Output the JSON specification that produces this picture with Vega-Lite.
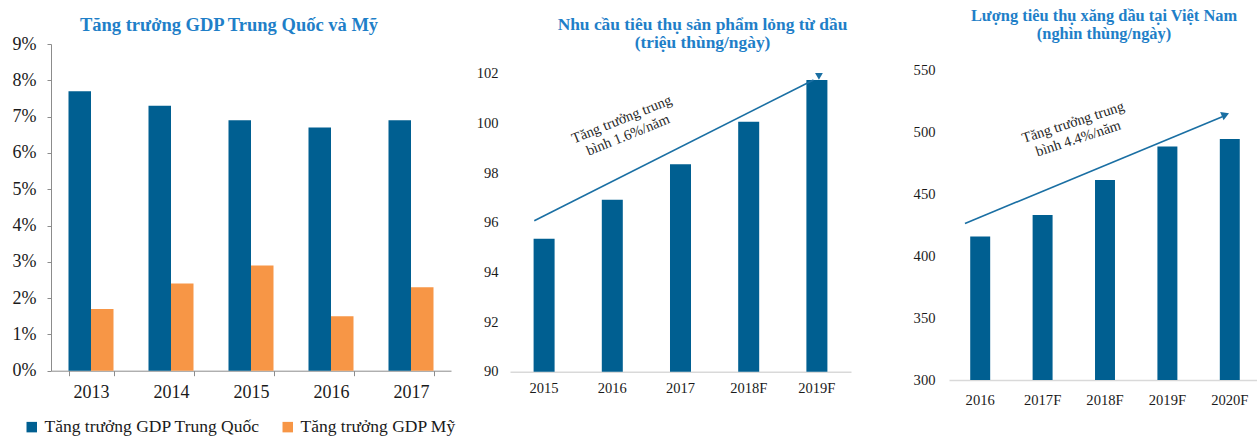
{
  "$schema": "https://vega.github.io/schema/vega-lite/v6.json",
  "padding": {"left": 12, "top": 7, "right": 0, "bottom": 0},
  "spacing": 59,
  "bounds": "flush",
  "config": {
    "font": "Liberation Serif",
    "view": {"stroke": null},
    "axis": {"labelColor": "#1a1a1a", "labelFont": "Liberation Serif", "grid": false, "title": null},
    "title": {"font": "Liberation Serif", "fontWeight": "bold", "color": "#1F7FC8", "anchor": "middle", "baseline": "bottom"}
  },
  "hconcat": [
    {
      "width": 400,
      "height": 326.7,
      "title": {"text": "Tăng trưởng GDP Trung Quốc và Mỹ", "fontSize": 18.5, "dx": -22, "offset": 1},
      "data": {"values": [
        {"year": "2013", "series": "Tăng trưởng GDP Trung Quốc", "value": 0.077},
        {"year": "2013", "series": "Tăng trưởng GDP Mỹ", "value": 0.017},
        {"year": "2014", "series": "Tăng trưởng GDP Trung Quốc", "value": 0.073},
        {"year": "2014", "series": "Tăng trưởng GDP Mỹ", "value": 0.024},
        {"year": "2015", "series": "Tăng trưởng GDP Trung Quốc", "value": 0.069},
        {"year": "2015", "series": "Tăng trưởng GDP Mỹ", "value": 0.029},
        {"year": "2016", "series": "Tăng trưởng GDP Trung Quốc", "value": 0.067},
        {"year": "2016", "series": "Tăng trưởng GDP Mỹ", "value": 0.015},
        {"year": "2017", "series": "Tăng trưởng GDP Trung Quốc", "value": 0.069},
        {"year": "2017", "series": "Tăng trưởng GDP Mỹ", "value": 0.023}
      ]},
      "mark": {"type": "bar"},
      "encoding": {
        "x": {
          "field": "year", "type": "nominal",
          "scale": {"paddingInner": 0.4375, "paddingOuter": 0.21875},
          "axis": {"labelAngle": 0, "tickBand": "extent", "domainColor": "#8C8C8C", "tickColor": "#8C8C8C", "tickSize": 5, "labelFontSize": 18, "labelPadding": 8}
        },
        "xOffset": {
          "field": "series", "type": "nominal",
          "sort": ["Tăng trưởng GDP Trung Quốc", "Tăng trưởng GDP Mỹ"],
          "scale": {"paddingInner": 0, "paddingOuter": 0}
        },
        "y": {
          "field": "value", "type": "quantitative",
          "scale": {"domain": [0, 0.09], "nice": false},
          "axis": {"format": ".0%", "values": [0, 0.01, 0.02, 0.03, 0.04, 0.05, 0.06, 0.07, 0.08, 0.09], "domainColor": "#8C8C8C", "tickColor": "#8C8C8C", "tickSize": 4, "labelFontSize": 18, "labelPadding": 11}
        },
        "color": {
          "field": "series", "type": "nominal",
          "scale": {"domain": ["Tăng trưởng GDP Trung Quốc", "Tăng trưởng GDP Mỹ"], "range": ["#005F91", "#F79646"]},
          "legend": {
            "title": null, "orient": "none", "legendX": -28, "legendY": 374, "direction": "horizontal",
            "symbolType": "square", "symbolSize": 110, "symbolStrokeWidth": 0,
            "labelFontSize": 17.5, "labelFont": "Liberation Serif", "labelColor": "#1a1a1a", "labelLimit": 400,
            "labelOffset": 4, "columnPadding": 19
          }
        }
      }
    },
    {
      "spacing": 98,
      "bounds": "flush",
      "hconcat": [
        {
          "width": 341,
          "height": 327.7,
          "title": {"text": ["Nhu cầu tiêu thụ sản phẩm lỏng từ dầu", "(triệu thùng/ngày)"], "fontSize": 17.4, "lineHeight": 18, "dx": 22, "offset": -7},
          "resolve": {"scale": {"x": "independent"}},
          "layer": [
            {
              "data": {"values": [
                {"year": "2015", "value": 95.36},
                {"year": "2016", "value": 96.93},
                {"year": "2017", "value": 98.36},
                {"year": "2018F", "value": 100.07},
                {"year": "2019F", "value": 101.75}
              ]},
              "mark": {"type": "bar", "color": "#005F91", "clip": true},
              "encoding": {
                "x": {"field": "year", "type": "nominal", "scale": {"paddingInner": 0.692, "paddingOuter": 0.346},
                  "axis": {"labelAngle": 0, "domainColor": "#D9D9D9", "domainWidth": 1.5, "ticks": false, "labelFontSize": 14.5, "labelPadding": 10}},
                "y": {"field": "value", "type": "quantitative", "scale": {"domain": [90, 103.2], "nice": false, "zero": false},
                  "axis": {"values": [90, 92, 94, 96, 98, 100, 102], "domain": false, "ticks": false, "labelFontSize": 14.5, "labelPadding": 12}}
              }
            },
            {
              "data": {"values": [
                {"px": 0.356, "py": 96.08},
                {"px": 4.45, "py": 101.75}
              ]},
              "mark": {"type": "line", "color": "#1A6FA3", "strokeWidth": 1.6},
              "encoding": {
                "x": {"field": "px", "type": "quantitative", "scale": {"domain": [0, 5], "nice": false}, "axis": null},
                "y": {"field": "py", "type": "quantitative", "scale": {"domain": [90, 103.2], "nice": false, "zero": false}}
              }
            },
            {
              "data": {"values": [{"px": 4.53, "py": 101.9}]},
              "mark": {"type": "point", "shape": "triangle-down", "filled": true, "color": "#1A6FA3", "size": 60, "opacity": 1},
              "encoding": {
                "x": {"field": "px", "type": "quantitative", "scale": {"domain": [0, 5], "nice": false}, "axis": null},
                "y": {"field": "py", "type": "quantitative", "scale": {"domain": [90, 103.2], "nice": false, "zero": false}}
              }
            },
            {
              "data": {"values": [{"px": 1.64, "py": 100.15, "label": "Tăng trưởng trung\nbình 1.6%/năm"}]},
              "mark": {"type": "text", "lineBreak": "\n", "angle": 338, "fontSize": 14.5, "color": "#262626", "align": "center", "baseline": "middle", "lineHeight": 17},
              "encoding": {
                "x": {"field": "px", "type": "quantitative", "scale": {"domain": [0, 5], "nice": false}, "axis": null},
                "y": {"field": "py", "type": "quantitative", "scale": {"domain": [90, 103.2], "nice": false, "zero": false}},
                "text": {"field": "label", "type": "nominal"}
              }
            }
          ]
        },
        {
          "width": 312,
          "height": 336,
          "title": {"text": ["Lượng tiêu thụ xăng dầu tại Việt Nam", "(nghìn thùng/ngày)"], "fontSize": 16.4, "lineHeight": 18, "dx": -1, "offset": 2},
          "resolve": {"scale": {"x": "independent"}},
          "layer": [
            {
              "data": {"values": [
                {"year": "2016", "value": 415.8},
                {"year": "2017F", "value": 433},
                {"year": "2018F", "value": 461.3},
                {"year": "2019F", "value": 488.4},
                {"year": "2020F", "value": 494.4}
              ]},
              "mark": {"type": "bar", "color": "#005F91", "clip": true},
              "encoding": {
                "x": {"field": "year", "type": "nominal", "scale": {"paddingInner": 0.68, "paddingOuter": 0.34},
                  "axis": {"labelAngle": 0, "domainColor": "#D9D9D9", "domainWidth": 1.5, "ticks": false, "labelFontSize": 14.6, "labelPadding": 12}},
                "y": {"field": "value", "type": "quantitative", "scale": {"domain": [300, 571], "nice": false, "zero": false},
                  "axis": {"values": [300, 350, 400, 450, 500, 550], "domain": false, "ticks": false, "labelFontSize": 14.6, "labelPadding": 14}}
              }
            },
            {
              "data": {"values": [
                {"px": 0.256, "py": 426.3},
                {"px": 4.38, "py": 512.3}
              ]},
              "mark": {"type": "line", "color": "#1A6FA3", "strokeWidth": 1.6},
              "encoding": {
                "x": {"field": "px", "type": "quantitative", "scale": {"domain": [0, 5], "nice": false}, "axis": null},
                "y": {"field": "py", "type": "quantitative", "scale": {"domain": [300, 571], "nice": false, "zero": false}}
              }
            },
            {
              "data": {"values": [{"px": 4.43, "py": 514}]},
              "mark": {"type": "point", "shape": "triangle-right", "angle": 337.6, "filled": true, "color": "#1A6FA3", "size": 80, "opacity": 1},
              "encoding": {
                "x": {"field": "px", "type": "quantitative", "scale": {"domain": [0, 5], "nice": false}, "axis": null},
                "y": {"field": "py", "type": "quantitative", "scale": {"domain": [300, 571], "nice": false, "zero": false}}
              }
            },
            {
              "data": {"values": [{"px": 1.99, "py": 507.5, "label": "Tăng trưởng trung\nbình 4.4%/năm"}]},
              "mark": {"type": "text", "lineBreak": "\n", "angle": 342, "fontSize": 14.5, "color": "#262626", "align": "center", "baseline": "middle", "lineHeight": 17},
              "encoding": {
                "x": {"field": "px", "type": "quantitative", "scale": {"domain": [0, 5], "nice": false}, "axis": null},
                "y": {"field": "py", "type": "quantitative", "scale": {"domain": [300, 571], "nice": false, "zero": false}},
                "text": {"field": "label", "type": "nominal"}
              }
            }
          ]
        }
      ]
    }
  ]
}
